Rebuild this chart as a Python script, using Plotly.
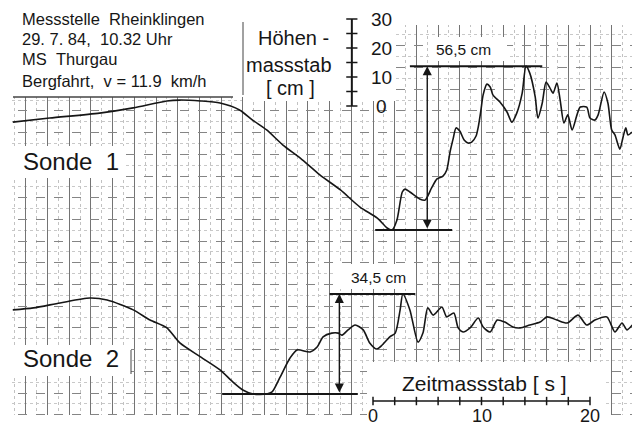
import plotly.graph_objects as go

# ---------------------------------------------------------------------------
# Wave records, Messstelle Rheinklingen, 29.7.84 (MS Thurgau, Bergfahrt)
# time in seconds (t = 0 at the start of the time scale), water level in cm
# ---------------------------------------------------------------------------
sonde1_t = [-33.2, -29.8, -25.2, -22.1, -19.0, -17.8, -15.9, -14.1, -12.3, -11.1,
            -9.8, -8.3, -6.7, -4.9, -3.0, -1.2, 0.4, 1.3, 1.75, 2.2,
            2.7, 2.95, 3.4, 4.3, 4.8, 5.4, 5.9, 6.45, 6.8, 7.1,
            7.4, 7.65, 8.0, 8.4, 8.75, 9.1, 9.5, 9.7, 9.95, 10.15,
            10.5, 10.8, 11.05, 11.7, 12.35, 12.8, 13.25, 13.75, 14.1, 14.45,
            14.95, 15.2, 15.6, 15.95, 16.3, 16.6, 16.95, 17.25, 17.6, 17.95,
            18.35, 18.8, 19.1, 19.7, 20.0, 20.45, 20.75, 21.3, 21.65, 22.0,
            22.3, 22.75, 23.05, 23.3, 23.5, 23.9]
sonde1_h = [37.2, 38.6, 40.3, 42.1, 44.5, 44.8, 44.5, 43.8, 41.4, 37.9,
            34.5, 29.3, 24.8, 19.0, 13.8, 7.9, 4.1, 0.7, 0.0, 3.4,
            13.1, 14.1, 13.1, 10.7, 10.3, 14.5, 17.6, 18.6, 20.7, 26.9,
            31.7, 35.2, 34.1, 31.0, 30.0, 30.3, 32.4, 35.5, 41.4, 46.6,
            50.3, 49.3, 46.6, 44.1, 40.7, 37.2, 40.3, 47.2, 56.5, 54.1,
            45.9, 38.6, 43.8, 51.0, 49.0, 47.2, 50.7, 44.8, 36.9, 39.7,
            34.5, 39.7, 42.4, 42.4, 38.6, 37.9, 39.7, 47.6, 43.8, 34.5,
            32.8, 27.9, 32.1, 35.2, 32.8, 33.8]

sonde2_t = [-33.2, -31.3, -28.85, -26.1, -24.5, -22.1, -20.55, -19.0, -17.8, -15.9,
            -14.1, -12.9, -12.0, -11.05, -9.8, -9.3, -8.55, -7.65, -7.0, -5.8,
            -5.15, -4.6, -3.8, -3.2, -2.85, -2.3, -1.65, -0.9, -0.3, 0.35,
            0.85, 1.55, 2.05, 2.5, 2.75, 3.4, 4.15, 4.6, 5.05, 5.55,
            6.35, 6.8, 7.45, 7.85, 8.3, 8.95, 9.7, 10.15, 10.8, 11.45,
            12.15, 12.9, 13.55, 14.45, 15.4, 16.05, 16.95, 17.9, 18.9, 19.7,
            20.45, 21.55, 22.3, 22.95, 23.4, 23.9]
sonde2_h = [29.0, 29.7, 31.4, 33.1, 32.4, 29.0, 25.5, 22.8, 17.6, 12.8,
            8.3, 4.1, 1.4, 0.0, 0.0, 0.7, 5.9, 12.4, 15.2, 14.5,
            16.2, 19.7, 21.0, 21.0, 20.3, 22.1, 23.8, 22.1, 17.6, 15.5,
            16.9, 19.7, 21.0, 29.0, 34.5, 29.0, 17.9, 21.0, 29.7, 27.2,
            30.0, 26.6, 27.9, 22.8, 21.4, 22.8, 26.2, 23.1, 21.4, 25.5,
            24.8, 23.1, 22.8, 23.8, 24.8, 26.6, 25.5, 24.5, 27.2, 23.8,
            25.5, 26.6, 21.4, 24.5, 22.1, 23.8]

# largest wave height (trough to crest) marked on each record, cm
sonde1_range = 56.5
sonde2_range = 34.5
# extent in seconds of the crest / trough reference lines and the arrow time
sonde1_crest_line = [3.4, 15.6]
sonde1_trough_line = [0.2, 7.3]
sonde1_arrow_t = 5.0
sonde2_crest_line = [-4.0, 3.9]
sonde2_trough_line = [-13.9, -1.4]
sonde2_arrow_t = -3.1

# scale bars
height_scale_ticks = [0, 5, 10, 15, 20, 25, 30]
height_scale_labels = [0, 10, 20, 30]
time_scale_ticks = [0, 2, 4, 6, 8, 10, 12, 14, 16, 18, 20]
time_scale_labels = [0, 10, 20]

# ---------------------------------------------------------------------------
# layout geometry (pixels of the 632 x 426 sheet)
# ---------------------------------------------------------------------------
W, H = 632, 426
PX_PER_S = 10.85       # chart speed
PX_PER_CM = 2.9        # vertical amplification
T0_PX = 373            # x pixel of t = 0
GRID_ZERO_PX = 393     # a horizontal grid line
S1_ZERO_PX = 230       # Sonde 1 trough level
S2_ZERO_PX = 394       # Sonde 2 trough level
HS_ZERO_PX = 106       # 0 of the height scale
HEIGHT_SCALE_T = -1.95
TIME_SCALE_LEVEL = -0.74   # in grid units
INK = "#161616"
FONT = "Liberation Sans, Arial, Helvetica, sans-serif"


def vrange(zero_px, ppu):
    return [(zero_px - H) / ppu, zero_px / ppu]


def gx(px):
    return (px - T0_PX) / PX_PER_S


def gy(py):
    return (GRID_ZERO_PX - py) / PX_PER_S


def paper(px, py):
    return px / W, 1 - py / H


fig = go.Figure()

line_style = dict(color=INK, width=1.6, shape="spline", smoothing=0.7)
fig.add_trace(go.Scatter(x=sonde1_t, y=sonde1_h, yaxis="y2", mode="lines",
                         line=line_style, name="Sonde 1"))
fig.add_trace(go.Scatter(x=sonde2_t, y=sonde2_h, yaxis="y3", mode="lines",
                         line=line_style, name="Sonde 2"))

# crest / trough reference lines
ref = dict(color=INK, width=2)
fig.add_trace(go.Scatter(x=sonde1_crest_line, y=[sonde1_range] * 2, yaxis="y2",
                         mode="lines", line=ref))
fig.add_trace(go.Scatter(x=sonde1_trough_line, y=[0, 0], yaxis="y2",
                         mode="lines", line=ref))
fig.add_trace(go.Scatter(x=sonde2_crest_line, y=[sonde2_range] * 2, yaxis="y3",
                         mode="lines", line=ref))
fig.add_trace(go.Scatter(x=sonde2_trough_line, y=[0, 0], yaxis="y3",
                         mode="lines", line=ref))

# height scale bar
fig.add_trace(go.Scatter(x=[HEIGHT_SCALE_T] * len(height_scale_ticks),
                         y=height_scale_ticks, yaxis="y4", mode="lines+markers",
                         line=dict(color=INK, width=2),
                         marker=dict(symbol="line-ew", size=8,
                                     line=dict(color=INK, width=1.5))))
# time scale bar
fig.add_trace(go.Scatter(x=time_scale_ticks,
                         y=[TIME_SCALE_LEVEL] * len(time_scale_ticks), yaxis="y",
                         mode="lines+markers", line=dict(color=INK, width=1.6),
                         marker=dict(symbol="line-ns", size=6,
                                     line=dict(color=INK, width=1.5))))

# white label areas over the graph paper (drawn between grid and traces)
white_boxes = [
    (0, 0, W, 25), (0, 0, 12, H), (0, 415, W, H),
    (0, 0, 243, 97), (243, 0, 396, 101),
    (0, 146, 126, 178), (0, 345, 131, 376),
    (431, 37, 507, 61), (336, 264, 416, 289),
    (367, 362, 606, H),
]
shapes = []
for x0, y0, x1, y1 in white_boxes:
    shapes.append(dict(type="rect", xref="x", yref="y", layer="between",
                       x0=gx(x0), x1=gx(x1), y0=gy(y1), y1=gy(y0),
                       fillcolor="white", line=dict(width=0)))
# box edges
for x0, y0, x1, y1, w in [(13, 97, 233, 97, 1.4), (243, 22, 243, 95, 1),
                          (131, 350, 131, 374, 1)]:
    shapes.append(dict(type="line", xref="x", yref="y", layer="above",
                       x0=gx(x0), x1=gx(x1), y0=gy(y0), y1=gy(y1),
                       line=dict(color="#444", width=w)))

annotations = []


def label(text, px, py, size, xanchor="center"):
    x, y = paper(px, py)
    annotations.append(dict(text=text, x=x, y=y, xref="paper", yref="paper",
                            showarrow=False, xanchor=xanchor, yanchor="middle",
                            font=dict(family=FONT, size=size, color=INK)))


sp = "\u00a0"
label(f"Messstelle{sp}{sp}Rheinklingen", 20, 19, 16.5, "left")
label(f"29.{sp}7.{sp}84,{sp}{sp}10.32{sp}Uhr", 20, 39, 16.5, "left")
label(f"MS{sp}{sp}Thurgau", 20, 59, 16.5, "left")
label(f"Bergfahrt,{sp}{sp}v{sp}={sp}11.9{sp}{sp}km/h", 20, 81, 16.5, "left")
label(f"Sonde{sp}{sp}1", 21, 162, 24, "left")
label(f"Sonde{sp}{sp}2", 21, 358, 24, "left")
label(f"Höhen{sp}-", 293, 38, 20)
label("massstab", 289, 65, 20)
label(f"[{sp}cm{sp}]", 290, 88, 20)
label(f"{sonde1_range:.1f}".replace(".", ",") + f"{sp}cm", 463, 49, 15.5)
label(f"{sonde2_range:.1f}".replace(".", ",") + f"{sp}cm", 378, 277, 15.5)
label(f"Zeitmassstab{sp}[{sp}s{sp}]", 484, 383, 21)

for v in height_scale_labels:
    annotations.append(dict(text=str(v), x=gx(381), y=v, xref="x", yref="y4",
                            showarrow=False, xanchor="center", yanchor="middle",
                            font=dict(family=FONT, size=19, color=INK)))
for v in time_scale_labels:
    annotations.append(dict(text=str(v), x=v, y=paper(0, 416)[1], xref="x",
                            yref="paper", showarrow=False, xanchor="center",
                            yanchor="middle",
                            font=dict(family=FONT, size=18, color=INK)))

# double arrows spanning trough to crest
for t, rng, yref in [(sonde1_arrow_t, sonde1_range, "y2"),
                     (sonde2_arrow_t, sonde2_range, "y3")]:
    annotations.append(dict(text="", x=t, y=rng, xref="x", yref=yref,
                            ax=t, ay=0, axref="x", ayref=yref, showarrow=True,
                            arrowhead=2, startarrowhead=2, arrowside="end+start",
                            arrowsize=1.3, startarrowsize=1.3, arrowwidth=1.4,
                            arrowcolor=INK, standoff=0, startstandoff=0))

hidden = dict(visible=False, fixedrange=True)
fig.update_layout(
    width=W, height=H,
    margin=dict(l=0, r=0, t=0, b=0),
    paper_bgcolor="white", plot_bgcolor="white",
    showlegend=False,
    xaxis=dict(range=[gx(0), gx(W)], showticklabels=False, ticks="",
               zeroline=False, showline=False,
               showgrid=True, tick0=0, dtick=2, gridcolor="#747474", gridwidth=1,
               minor=dict(showgrid=True, tick0=0, dtick=1, gridcolor="#c2c2c2",
                          griddash="dot", gridwidth=1)),
    yaxis=dict(range=vrange(GRID_ZERO_PX, PX_PER_S), showticklabels=False,
               ticks="", zeroline=False, showline=False,
               showgrid=True, tick0=0, dtick=2, gridcolor="#858585",
               griddash="dash", gridwidth=1,
               minor=dict(showgrid=True, tick0=0, dtick=1, gridcolor="#c8c8c8",
                          griddash="dot", gridwidth=1)),
    yaxis2=dict(range=vrange(S1_ZERO_PX, PX_PER_CM), overlaying="y", **hidden),
    yaxis3=dict(range=vrange(S2_ZERO_PX, PX_PER_CM), overlaying="y", **hidden),
    yaxis4=dict(range=vrange(HS_ZERO_PX, PX_PER_CM), overlaying="y", **hidden),
    shapes=shapes,
    annotations=annotations,
)

fig.write_html("out.html")
